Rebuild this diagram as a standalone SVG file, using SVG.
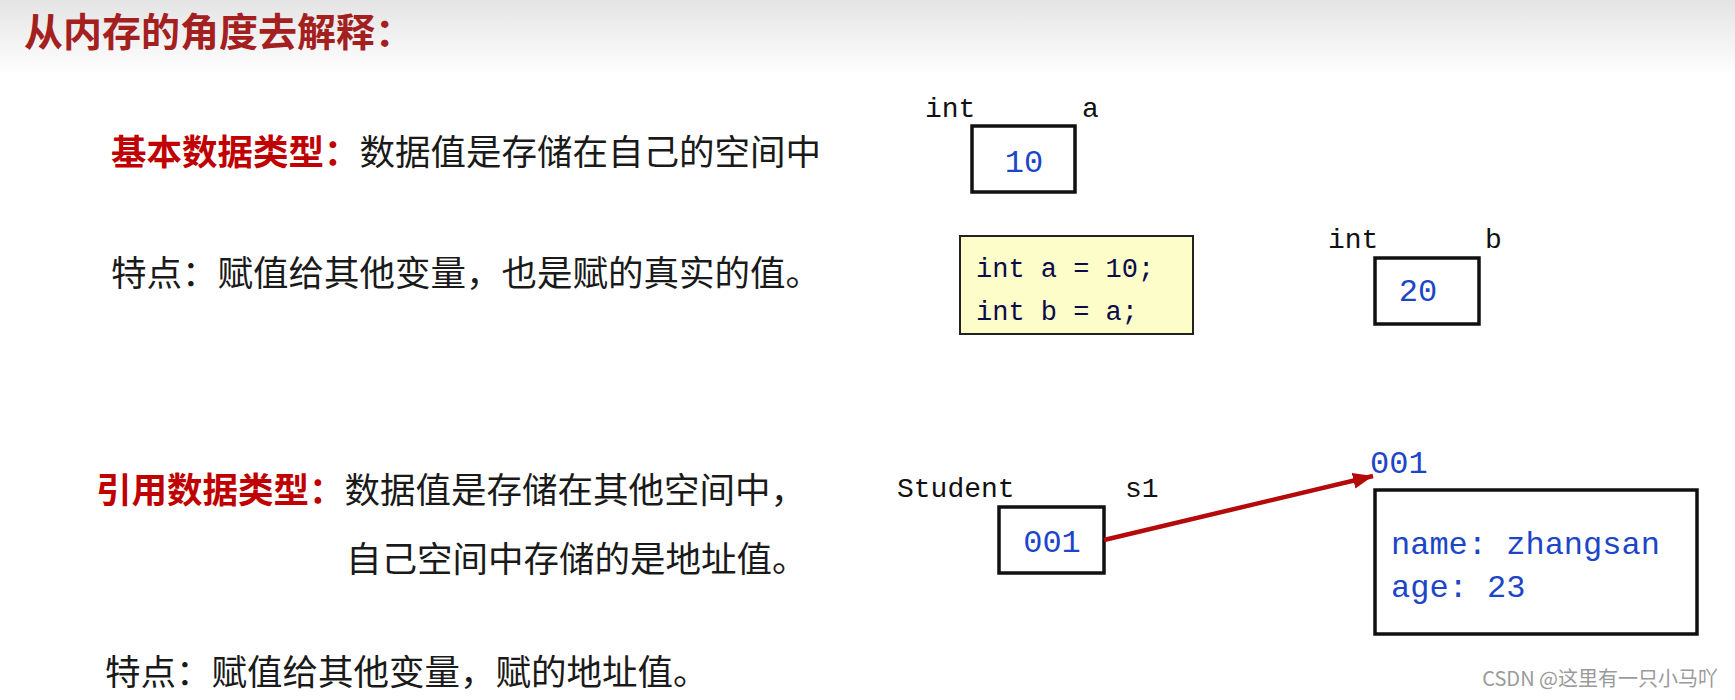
<svg xmlns="http://www.w3.org/2000/svg" width="1735" height="700" viewBox="0 0 1735 700">
<defs>
<linearGradient id="topfade" x1="0" y1="0" x2="0" y2="1">
<stop offset="0" stop-color="#e4e4e4"/>
<stop offset="1" stop-color="#ffffff"/>
</linearGradient>
<marker id="arrowRed" markerUnits="userSpaceOnUse" markerWidth="24" markerHeight="20" refX="20" refY="8" orient="auto">
<path d="M0,0 L20,8 L0,16 Z" fill="#b40a0a"/>
</marker>
<style>
.cjk{font-family:"Noto Sans CJK SC","Noto Sans",sans-serif;font-size:35.5px;fill:#1a1a1a}
.title{font-family:"Noto Sans CJK SC","Noto Sans",sans-serif;font-size:39px;font-weight:bold;fill:#a3201f}
.head{font-weight:bold;fill:#c00000}
.mono{font-family:"Liberation Mono","DejaVu Sans Mono",monospace;font-size:28px;fill:#111}
.val{font-family:"Liberation Mono","DejaVu Sans Mono",monospace;font-size:32px;fill:#1c45c8}
.code{font-family:"Liberation Mono","DejaVu Sans Mono",monospace;font-size:27px;fill:#0b0b4a}
.box{fill:#ffffff;stroke:#111;stroke-width:3.5}
.wm{font-family:"Noto Sans CJK SC","Noto Sans",sans-serif;font-size:20px;fill:#9a9a9a}
</style>
</defs>
<rect x="0" y="0" width="1735" height="700" fill="#ffffff"/>
<rect x="0" y="0" width="1735" height="75" fill="url(#topfade)"/>

<g id="title"><text class="title" x="24" y="46">从内存的角度去解释：</text></g>

<g id="text-primitive">
<text class="cjk" x="111" y="165"><tspan class="head">基本数据类型：</tspan>数据值是存储在自己的空间中</text>
<text class="cjk" x="111" y="286">特点：赋值给其他变量，也是赋的真实的值。</text>
</g>

<g id="text-reference">
<text class="cjk" x="96" y="503"><tspan class="head">引用数据类型：</tspan>数据值是存储在其他空间中，</text>
<text class="cjk" x="346" y="572">自己空间中存储的是地址值。</text>
<text class="cjk" x="105" y="685">特点：赋值给其他变量，赋的地址值。</text>
</g>

<g id="var-a">
<text class="mono" x="925" y="117">int</text>
<text class="mono" x="1082" y="117">a</text>
<rect class="box" x="972" y="126" width="103" height="66"/>
<text class="val" x="1024" y="172" text-anchor="middle">10</text>
</g>

<g id="code">
<rect x="960" y="236" width="233" height="98" fill="#fdfdc9" stroke="#222" stroke-width="2"/>
<text class="code" x="976" y="277">int a = 10;</text>
<text class="code" x="976" y="320">int b = a;</text>
</g>

<g id="var-b">
<text class="mono" x="1328" y="248">int</text>
<text class="mono" x="1485" y="248">b</text>
<rect class="box" x="1375" y="258" width="104" height="66"/>
<text class="val" x="1418" y="301" text-anchor="middle">20</text>
</g>

<g id="var-s1">
<text class="mono" x="897" y="497">Student</text>
<text class="mono" x="1125" y="497">s1</text>
<rect class="box" x="999" y="507" width="105" height="66"/>
<text class="val" x="1052" y="552" text-anchor="middle">001</text>
</g>

<g id="object">
<text class="val" x="1370" y="473">001</text>
<rect class="box" x="1375" y="490" width="322" height="144"/>
<text class="val" x="1391" y="554" font-size="33.5">name: zhangsan</text>
<text class="val" x="1391" y="597" font-size="33.5">age: 23</text>
</g>

<g id="connectors">
<line x1="1104" y1="540" x2="1373" y2="476" stroke="#b40a0a" stroke-width="4.5" marker-end="url(#arrowRed)"/>
</g>

<g id="watermark"><text class="wm" x="1718" y="686" text-anchor="end">CSDN @这里有一只小马吖</text></g>
</svg>
